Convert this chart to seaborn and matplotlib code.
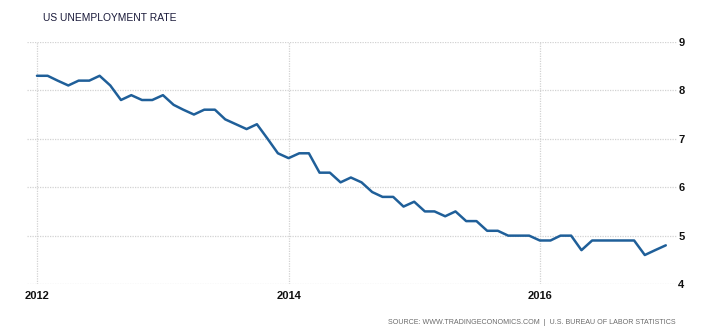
import matplotlib
matplotlib.use("Agg")
import matplotlib.pyplot as plt
import matplotlib.dates as mdates
import seaborn as sns
import pandas as pd

# monthly US unemployment rate, Jan 2012 - Jan 2017
rate_2012 = [8.3, 8.3, 8.2, 8.1, 8.2, 8.2, 8.3, 8.1, 7.8, 7.9, 7.8, 7.8]
rate_2013 = [7.9, 7.7, 7.6, 7.5, 7.6, 7.6, 7.4, 7.3, 7.2, 7.3, 7.0, 6.7]
rate_2014 = [6.6, 6.7, 6.7, 6.3, 6.3, 6.1, 6.2, 6.1, 5.9, 5.8, 5.8, 5.6]
rate_2015 = [5.7, 5.5, 5.5, 5.4, 5.5, 5.3, 5.3, 5.1, 5.1, 5.0, 5.0, 5.0]
rate_2016 = [4.9, 4.9, 5.0, 5.0, 4.7, 4.9, 4.9, 4.9, 4.9, 4.9, 4.6, 4.7]
rate_2017 = [4.8]

rates = rate_2012 + rate_2013 + rate_2014 + rate_2015 + rate_2016 + rate_2017
months = pd.date_range("2012-01-01", periods=len(rates), freq="MS")
df = pd.DataFrame({"date": months, "rate": rates})

year_ticks = ["2012", "2014", "2016"]
y_ticks = [4, 5, 6, 7, 8, 9]

sns.set_style("white")
plt.rcParams['font.family'] = ['Liberation Sans', 'DejaVu Sans']

fig = plt.figure(figsize=(7.2, 3.35), dpi=100)
ax = fig.add_axes([0.0375, 0.152, 0.9025, 0.723])

sns.lineplot(data=df, x="date", y="rate", ax=ax, color="#1f5f99",
             linewidth=1.8, solid_joinstyle="round", solid_capstyle="round")

ax.set_xlim(pd.Timestamp("2011-12-03"), pd.Timestamp("2017-02-02"))
ax.set_ylim(4, 9)
ax.set_xticks([pd.Timestamp(y + "-01-01") for y in year_ticks])
ax.xaxis.set_major_formatter(mdates.DateFormatter("%Y"))
ax.set_yticks(y_ticks)
ax.yaxis.tick_right()

ax.grid(True, color="#d2d2d2", linestyle=(0, (1, 1)), linewidth=0.9)
for s in ax.spines.values():
    s.set_visible(False)
ax.tick_params(axis="both", length=0, labelsize=8, colors="#111111")
ax.tick_params(axis="x", pad=5)
ax.tick_params(axis="y", pad=1)
for lab in ax.get_xticklabels() + ax.get_yticklabels():
    lab.set_fontweight("bold")
ax.set_xlabel("")
ax.set_ylabel("")

fig.text(43 / 720, 1 - 18 / 335, "US UNEMPLOYMENT RATE", fontsize=7.4,
         color="#1a1a3a", va="center", ha="left")
fig.text(676 / 720, 1 - 322 / 335,
         "SOURCE: WWW.TRADINGECONOMICS.COM  |  U.S. BUREAU OF LABOR STATISTICS",
         fontsize=5.1, color="#6a6a6a", va="center", ha="right")

fig.savefig("out.png", dpi=100)
